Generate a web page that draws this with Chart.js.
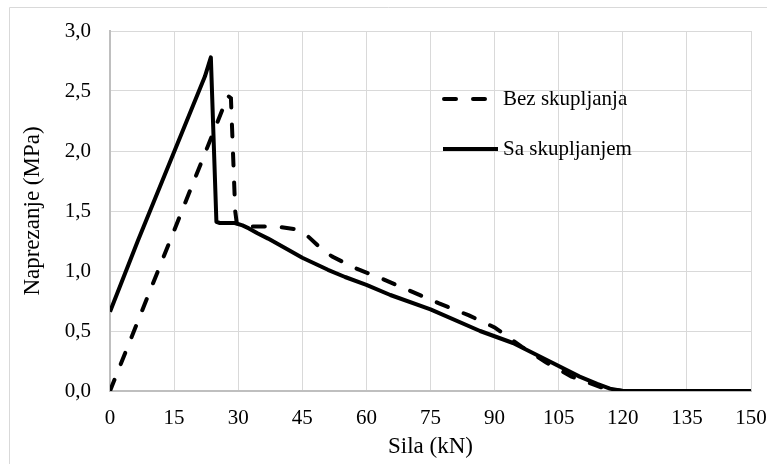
<!DOCTYPE html>
<html>
<head>
<meta charset="utf-8">
<script src="https://cdn.jsdelivr.net/npm/chart.js@4.4.1/dist/chart.umd.min.js"></script>
<style>
    body { margin: 0; background: #fff; }
    #wrap { width: 767px; height: 464px; }
</style>
</head>
<body>
<div id="wrap"><canvas id="naprezanjeChart" width="767" height="464"></canvas></div>
<script>
// Podaci ocitani sa grafika
const bezSilaData = [0, 27.6, 28.3, 29.3, 29.7, 33, 39, 43, 46, 49, 52, 57.7, 64, 70.5, 77, 84, 90, 96.3, 102, 108, 115, 120, 150];
const bezNaprData = [0, 2.46, 2.44, 1.50, 1.39, 1.37, 1.37, 1.35, 1.30, 1.20, 1.12, 1.02, 0.93, 0.83, 0.73, 0.63, 0.53, 0.37, 0.24, 0.12, 0.03, 0, 0];

const saSilaData = [0, 6.5, 22.2, 23.6, 24.9, 25.7, 29.2, 31, 32.5, 34.5, 37, 39.5, 42, 45, 48, 51, 55, 60, 65.6, 75, 86.6, 94.3, 102.1, 109.9, 114, 117, 120, 125, 150];
const saNaprData = [0.66, 1.25, 2.62, 2.78, 1.41, 1.40, 1.40, 1.38, 1.355, 1.315, 1.27, 1.22, 1.17, 1.11, 1.06, 1.01, 0.95, 0.885, 0.80, 0.68, 0.50, 0.40, 0.26, 0.12, 0.06, 0.02, 0, 0, 0];

const seriesNames = ['Bez skupljanja', 'Sa skupljanjem'];
const xTitle = 'Sila (kN)';
const yTitle = 'Naprezanje (MPa)';

function toPoints(xs, ys) {
    return xs.map(function (x, i) { return { x: x, y: ys[i] }; });
}

const serif = "'Liberation Serif', 'Times New Roman', serif";

// okvir (samo lijevo i gore vidljivo) i legenda
const frameAndLegend = {
    id: 'frameAndLegend',
    afterDraw: function (chart) {
        const ctx = chart.ctx;
        ctx.save();
        ctx.strokeStyle = '#d9d9d9';
        ctx.lineWidth = 1;
        ctx.beginPath();
        ctx.moveTo(9.5, 470);
        ctx.lineTo(9.5, 7.5);
        ctx.lineTo(770, 7.5);
        ctx.stroke();

        const rows = [99, 149];
        chart.data.datasets.forEach(function (ds, i) {
            const y = rows[i];
            ctx.strokeStyle = ds.borderColor;
            ctx.lineWidth = ds.borderWidth;
            ctx.lineCap = ds.borderCapStyle || 'butt';
            ctx.setLineDash(ds.borderDash || []);
            ctx.beginPath();
            ctx.moveTo(i === 0 ? 444 : 443, y);
            ctx.lineTo(i === 0 ? 489 : 498, y);
            ctx.stroke();
            ctx.setLineDash([]);
            ctx.fillStyle = '#000';
            ctx.font = '21px ' + serif;
            ctx.textAlign = 'left';
            ctx.textBaseline = 'middle';
            ctx.fillText(ds.label, 503, y);
        });
        ctx.restore();
    }
};

new Chart(document.getElementById('naprezanjeChart'), {
    type: 'line',
    data: {
        datasets: [{
            label: seriesNames[0],
            data: toPoints(bezSilaData, bezNaprData),
            borderColor: '#000',
            borderWidth: 4,
            borderDash: [12, 17],
            borderCapStyle: 'round',
            pointRadius: 0,
            tension: 0,
            order: 2
        }, {
            label: seriesNames[1],
            data: toPoints(saSilaData, saNaprData),
            borderColor: '#000',
            borderWidth: 4,
            borderJoinStyle: 'round',
            pointRadius: 0,
            tension: 0,
            order: 1
        }]
    },
    options: {
        responsive: false,
        animation: false,
        layout: { padding: { left: 10, top: 31, right: 16, bottom: 0 } },
        plugins: {
            legend: { display: false },
            tooltip: { enabled: false }
        },
        scales: {
            x: {
                type: 'linear',
                min: 0,
                max: 150,
                afterFit: function (scale) {
                    scale.height = 73;
                    scale.paddingLeft = 0;
                    scale.paddingRight = 0;
                },
                ticks: {
                    stepSize: 15,
                    padding: 15,
                    color: '#000',
                    font: { family: serif, size: 21 }
                },
                grid: { color: '#d9d9d9', lineWidth: 1, drawTicks: false },
                border: { color: '#bfbfbf', width: 2 },
                title: {
                    display: true,
                    text: xTitle,
                    color: '#000',
                    font: { family: serif, size: 23 },
                    padding: { top: 0, bottom: 3 }
                }
            },
            y: {
                min: 0,
                max: 3,
                afterFit: function (scale) {
                    scale.width = 100;
                    scale.paddingTop = 0;
                    scale.paddingBottom = 0;
                },
                ticks: {
                    stepSize: 0.5,
                    padding: 19,
                    color: '#000',
                    font: { family: serif, size: 21 },
                    callback: function (value) {
                        return value.toFixed(1).replace('.', ','); // decimalni zarez
                    }
                },
                grid: { color: '#d9d9d9', lineWidth: 1, drawTicks: false },
                border: { color: '#bfbfbf', width: 2 },
                title: {
                    display: true,
                    text: yTitle,
                    color: '#000',
                    font: { family: serif, size: 23 },
                    padding: { top: 9, bottom: 0 }
                }
            }
        }
    },
    plugins: [frameAndLegend]
});
</script>
</body>
</html>
